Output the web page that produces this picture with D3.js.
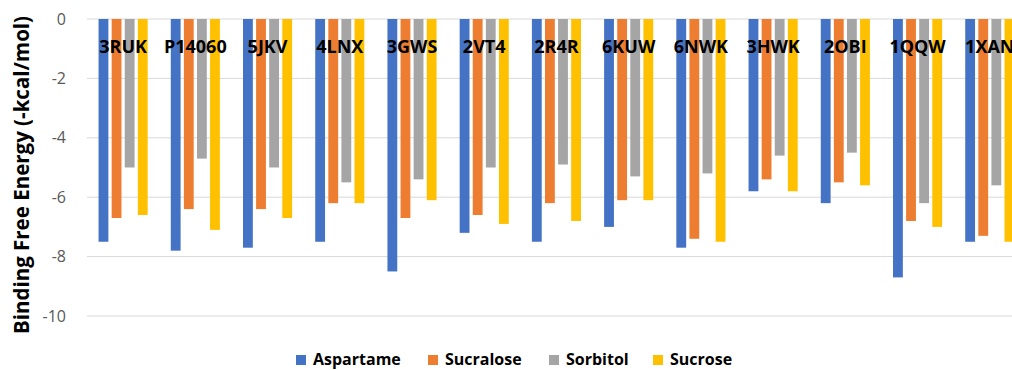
<!DOCTYPE html>
<html><head><meta charset="utf-8">
<script src="https://cdn.jsdelivr.net/npm/d3@7"></script>
<style>body{margin:0;background:#fff}svg{display:block}</style>
</head><body><svg id="c" width="1012" height="370"></svg>
<script>
const categories = ["3RUK","P14060","5JKV","4LNX","3GWS","2VT4","2R4R","6KUW","6NWK","3HWK","2OBI","1QQW","1XAN"];
const seriesNames = ["Aspartame","Sucralose","Sorbitol","Sucrose"];
const aspartame = [-7.5,-7.8,-7.7,-7.5,-8.5,-7.2,-7.5,-7.0,-7.7,-5.8,-6.2,-8.7,-7.5];
const sucralose = [-6.7,-6.4,-6.4,-6.2,-6.7,-6.6,-6.2,-6.1,-7.4,-5.4,-5.5,-6.8,-7.3];
const sorbitol  = [-5.0,-4.7,-5.0,-5.5,-5.4,-5.0,-4.9,-5.3,-5.2,-4.6,-4.5,-6.2,-5.6];
const sucrose   = [-6.6,-7.1,-6.7,-6.2,-6.1,-6.9,-6.8,-6.1,-7.5,-5.8,-5.6,-7.0,-7.5];
const yTicks = [0,-2,-4,-6,-8,-10];
const colors = ["#4472c4","#ed7d31","#a5a5a5","#ffc000"];
const seriesValues = [aspartame, sucralose, sorbitol, sucrose];

const svg = d3.select("#c");
const font = "'Open Sans', 'Noto Sans', sans-serif";
const x0 = d3.scaleBand().domain(categories).range([87, 1025.9]).paddingInner(0.32).paddingOuter(0.16);
const x1 = d3.scaleBand().domain(seriesNames).range([0, x0.bandwidth()]).paddingInner(0.25);
const y = d3.scaleLinear().domain([-10, 0]).range([316, 19]);

// gridlines
svg.append("g").selectAll("line").data(yTicks).join("line")
  .attr("x1", 87).attr("x2", 1012)
  .attr("y1", d => y(d)).attr("y2", d => y(d))
  .attr("stroke", "#d9d9d9").attr("stroke-width", 1);

// y axis tick labels
const yAxis = d3.axisLeft(y).tickValues(yTicks).tickSize(0).tickPadding(0).tickFormat(d3.format("d"));
const ga = svg.append("g").attr("transform", "translate(66,0)").call(yAxis);
ga.select(".domain").remove();
ga.selectAll("text").attr("font-family", font).attr("font-size", 16).attr("fill", "#595959").text(d => d === 0 ? "0" : "-" + Math.abs(d));

// bars
const groups = svg.append("g").selectAll("g").data(categories).join("g")
  .attr("transform", d => `translate(${x0(d)},0)`);
groups.selectAll("rect").data((c, i) => seriesNames.map((s, j) => ({s, v: seriesValues[j][i], j})))
  .join("rect")
  .attr("x", d => x1(d.s)).attr("width", x1.bandwidth())
  .attr("y", y(0)).attr("height", d => y(d.v) - y(0))
  .attr("fill", d => colors[d.j]);

// category labels
svg.append("g").selectAll("text").data(categories).join("text")
  .attr("x", d => x0(d) + x0.bandwidth() / 2).attr("y", 53)
  .attr("text-anchor", "middle").attr("font-family", font).attr("font-weight", "bold")
  .attr("font-size", 18).attr("fill", "#000").text(d => d);

// y title
svg.append("text").attr("transform", "translate(29,175) rotate(-90)")
  .attr("text-anchor", "middle").attr("font-family", font).attr("font-weight", "bold")
  .attr("font-size", 20.5).attr("fill", "#000").text("Binding Free Energy (-kcal/mol)");

// legend
const legX = [296, 428, 549, 653];
const leg = svg.append("g").selectAll("g").data(seriesNames).join("g")
  .attr("transform", (d, i) => `translate(${legX[i]},355)`);
leg.append("rect").attr("width", 10).attr("height", 10).attr("fill", (d, i) => colors[i]);
leg.append("text").attr("x", 17).attr("y", 10).attr("font-family", font).attr("font-weight", "bold")
  .attr("font-size", 16).attr("fill", "#000").text(d => d);
</script></body></html>
